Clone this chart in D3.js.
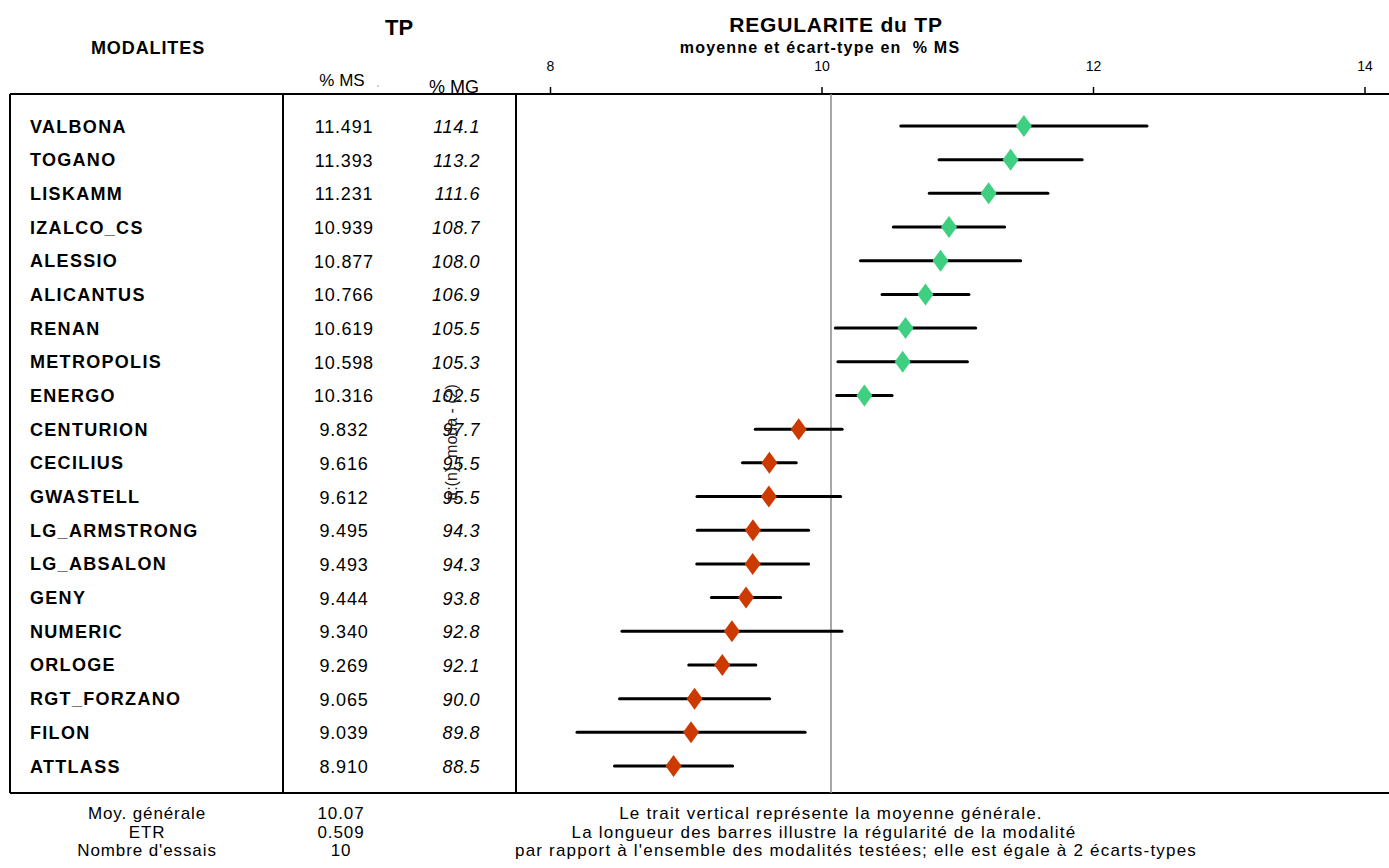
<!DOCTYPE html>
<html>
<head>
<meta charset="utf-8">
<script src="https://cdn.jsdelivr.net/npm/d3@7"></script>
<style>
  html, body { margin: 0; padding: 0; background: #fff; }
  svg { display: block; font-family: "Liberation Sans", Arial, sans-serif; }
</style>
</head>
<body>
<svg id="chart" width="1389" height="868"></svg>
<script>
// ---- data ----
const modalites = ["VALBONA","TOGANO","LISKAMM","IZALCO_CS","ALESSIO","ALICANTUS","RENAN","METROPOLIS","ENERGO","CENTURION","CECILIUS","GWASTELL","LG_ARMSTRONG","LG_ABSALON","GENY","NUMERIC","ORLOGE","RGT_FORZANO","FILON","ATTLASS"];
const pctMS = [11.491,11.393,11.231,10.939,10.877,10.766,10.619,10.598,10.316,9.832,9.616,9.612,9.495,9.493,9.444,9.340,9.269,9.065,9.039,8.910];
const pctMG = [114.1,113.2,111.6,108.7,108.0,106.9,105.5,105.3,102.5,97.7,95.5,95.5,94.3,94.3,93.8,92.8,92.1,90.0,89.8,88.5];
const ecartType = [0.907,0.527,0.437,0.410,0.590,0.320,0.517,0.477,0.204,0.320,0.198,0.529,0.410,0.412,0.255,0.810,0.247,0.553,0.840,0.435];
const axisTicks = [8,10,12,14];
const moyGenerale = 10.07;
const footLabels = ["Moy. générale","ETR","Nombre d'essais"];
const footValues = ["10.07","0.509","10"];
const footNotes = ["Le trait vertical représente la moyenne générale.",
                   "La longueur des barres illustre la régularité de la modalité",
                   "par rapport à l'ensemble des modalités testées; elle est égale à 2 écarts-types"];

const svg = d3.select("#chart");
const W = 1389;
const yTop = 94, yBottom = 793;
const x = d3.scaleLinear().domain([8,14]).range([550,1364.5]);
const y = d3.scalePoint().domain(modalites).range([126,766]);

const rows = modalites.map((m,i)=>({name:m, ms:pctMS[i], mg:pctMG[i], sd:ecartType[i]}));

// ---- titles ----
svg.append("text").attr("x",148).attr("y",54).attr("text-anchor","middle")
  .attr("font-weight","bold").attr("font-size",18).attr("letter-spacing",0.9).text("MODALITES");
svg.append("text").attr("x",399).attr("y",35).attr("text-anchor","middle")
  .attr("font-weight","bold").attr("font-size",22).text("TP");
svg.append("text").attr("x",342).attr("y",86).attr("text-anchor","middle")
  .attr("font-size",17).text("% MS");
svg.append("circle").attr("cx",378).attr("cy",86).attr("r",0.8).attr("fill","#999");
svg.append("text").attr("x",454).attr("y",93).attr("text-anchor","middle")
  .attr("font-size",18).text("% MG");
svg.append("text").attr("x",836).attr("y",32).attr("text-anchor","middle")
  .attr("font-weight","bold").attr("font-size",21).attr("letter-spacing",0.8).text("REGULARITE du TP");
svg.append("text").attr("x",820).attr("y",53).attr("text-anchor","middle")
  .attr("font-weight","bold").attr("font-size",16).attr("letter-spacing",1.2)
  .attr("xml:space","preserve").text("moyenne et écart-type en  % MS");

// ---- axis ----
const axis = d3.axisTop(x).tickValues(axisTicks).tickSize(7).tickPadding(16).tickFormat(d3.format("d"));
const gAxis = svg.append("g").attr("transform",`translate(0,${yTop})`).call(axis);
gAxis.select(".domain").remove();
gAxis.selectAll(".tick line").attr("stroke","#000").attr("stroke-width",1.5);
gAxis.selectAll(".tick text").attr("font-size",14).attr("fill","#000")
  .attr("font-family","Liberation Sans, Arial, sans-serif");

// ---- frame ----
const frame = svg.append("g").attr("stroke","#000").attr("stroke-width",2);
frame.append("line").attr("x1",10).attr("x2",W).attr("y1",yTop).attr("y2",yTop);
frame.append("line").attr("x1",10).attr("x2",W).attr("y1",yBottom).attr("y2",yBottom);
[10,283,516].forEach(v=>frame.append("line").attr("x1",v).attr("x2",v).attr("y1",yTop).attr("y2",yBottom));

// mean line
svg.append("line").attr("x1",x(moyGenerale)).attr("x2",x(moyGenerale))
  .attr("y1",yTop).attr("y2",yBottom).attr("stroke","#8a8a8a").attr("stroke-width",1.5);

// ---- table text ----
const rowG = svg.append("g");
rowG.selectAll("text.name").data(rows).join("text").attr("class","name")
  .attr("x",30).attr("y",d=>y(d.name)+6.5)
  .attr("font-weight","bold").attr("font-size",18).attr("letter-spacing",1.3).text(d=>d.name);
rowG.selectAll("text.ms").data(rows).join("text").attr("class","ms")
  .attr("x",344).attr("y",d=>y(d.name)+7).attr("text-anchor","middle")
  .attr("font-size",18).attr("letter-spacing",0.8).text(d=>d3.format(".3f")(d.ms));
rowG.selectAll("text.mg").data(rows).join("text").attr("class","mg")
  .attr("x",480).attr("y",d=>y(d.name)+7).attr("text-anchor","end")
  .attr("font-size",18).attr("letter-spacing",0.6).attr("font-style","italic").text(d=>d3.format(".1f")(d.mg));

// stray rotated label
svg.append("text").attr("transform","translate(457,443) rotate(-90)")
  .attr("text-anchor","middle").attr("font-size",16).attr("fill","#222")
  .text("π:(n)_moda - (2)");

// ---- bars ----
const bars = svg.append("g");
bars.selectAll("line").data(rows).join("line")
  .attr("x1",d=>x(d.ms-d.sd)).attr("x2",d=>x(d.ms+d.sd))
  .attr("y1",d=>y(d.name)).attr("y2",d=>y(d.name))
  .attr("stroke","#000").attr("stroke-width",3).attr("stroke-linecap","round");
bars.selectAll("path").data(rows).join("path")
  .attr("d",d=>{const cx=x(d.ms), cy=y(d.name); return `M${cx},${cy-11}L${cx+8},${cy}L${cx},${cy+11}L${cx-8},${cy}Z`;})
  .attr("fill",d=>d.ms>=moyGenerale?"#3fcf80":"#cc3a00");

// ---- footer ----
const noteX = [831, 824, 856];
const foot = svg.append("g").attr("font-size",17);
foot.selectAll("text.fl").data(footLabels).join("text").attr("class","fl")
  .attr("x",147).attr("y",(d,i)=>819+i*18.5).attr("text-anchor","middle").attr("letter-spacing",0.9).text(d=>d);
foot.selectAll("text.fv").data(footValues).join("text").attr("class","fv")
  .attr("x",341).attr("y",(d,i)=>819+i*18.5).attr("text-anchor","middle").attr("letter-spacing",0.9).text(d=>d);
foot.selectAll("text.fn").data(footNotes).join("text").attr("class","fn")
  .attr("x",(d,i)=>noteX[i]).attr("y",(d,i)=>819+i*18.5).attr("text-anchor","middle").attr("letter-spacing",1.2).text(d=>d);
</script>
</body>
</html>
